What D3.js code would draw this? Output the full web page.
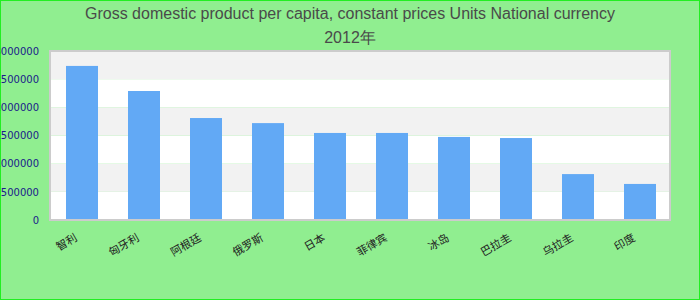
<!DOCTYPE html>
<html>
<head>
<meta charset="utf-8">
<script src="https://cdn.jsdelivr.net/npm/d3@7"></script>
<style>
  body { margin: 0; }
  svg { display: block; }
</style>
</head>
<body>
<svg width="700" height="300"></svg>
<script>
const svg = d3.select('svg');
const width = +svg.attr('width');
const height = +svg.attr('height');

// data
const titleLines = ['Gross domestic product per capita, constant prices Units National currency', '2012年'];
const categories = ['智利', '匈牙利', '阿根廷', '俄罗斯', '日本', '菲律宾', '冰岛', '巴拉圭', '乌拉圭', '印度'];
const values = [2735000, 2290000, 1810000, 1720000, 1545000, 1545000, 1475000, 1455000, 815000, 640000];
const yTicks = [0, 500000, 1000000, 1500000, 2000000, 2500000, 3000000];

const margin = { top: 51, right: 30, bottom: 80, left: 50 };
const plotW = width - margin.left - margin.right;
const plotH = height - margin.top - margin.bottom;

// background + outer border
svg.append('rect')
    .attr('x', 0.5).attr('y', 0.5)
    .attr('width', width - 1).attr('height', height - 1)
    .attr('fill', '#90ee90')
    .attr('stroke', '#22ee22')

// title
svg.append('g').selectAll('text').data(titleLines)
  .enter().append('text')
    .attr('x', width / 2)
    .attr('y', (_d, i) => 19 + i * 24)
    .attr('text-anchor', 'middle')
    .attr('font-family', 'Liberation Sans, Arial, sans-serif')
    .attr('font-size', 16)
    .attr('fill', '#4a4a4a')
    .text(d => d)

const x = d3.scaleBand()
    .domain(categories)
    .range([1, plotW + 1])
    .paddingInner(0.484)
    .paddingOuter(0.242)

const y = d3.scaleLinear()
    .domain([0, 3000000])
    .range([plotH, 0])

const g = svg.append('g').attr('transform', `translate(${margin.left},${margin.top})`)

// alternating bands
const bands = d3.range(yTicks.length - 1)
g.selectAll('rect.band').data(bands)
  .enter().append('rect')
    .attr('class', 'band')
    .attr('x', 0)
    .attr('width', plotW)
    .attr('y', i => y(yTicks[i + 1]))
    .attr('height', i => y(yTicks[i]) - y(yTicks[i + 1]))
    .attr('fill', i => (yTicks.length - 2 - i) % 2 === 0 ? '#f2f2f2' : '#ffffff')

// bars
g.selectAll('rect.bar').data(values)
  .enter().append('rect')
    .attr('class', 'bar')
    .attr('x', (_d, i) => x(categories[i]))
    .attr('width', x.bandwidth())
    .attr('y', d => y(d))
    .attr('height', d => plotH - y(d))
    .attr('fill', '#62a9f5')

// plot frame
g.append('rect')
    .attr('x', 0).attr('y', 0)
    .attr('width', plotW).attr('height', plotH)
    .attr('fill', 'none')
    .attr('stroke', '#cccccc')
    .attr('stroke-width', 2)

// y axis
const yAxis = g.append('g')
    .call(d3.axisLeft(y).tickValues(yTicks).tickFormat(d3.format('d')).tickSize(0).tickPadding(11))
yAxis.select('.domain').remove()
yAxis.selectAll('text')
    .attr('font-family', 'DejaVu Sans, Verdana, sans-serif')
    .attr('font-size', 10)
    .attr('fill', '#1a1a8a')

// x axis
const xAxis = g.append('g')
    .attr('transform', `translate(0,${plotH})`)
    .call(d3.axisBottom(x).tickSize(0).tickPadding(0))
xAxis.select('.domain').remove()
xAxis.selectAll('text')
    .attr('font-family', 'Noto Sans CJK SC, sans-serif')
    .attr('font-size', 11)
    .attr('fill', '#222')
    .attr('text-anchor', 'end')
    .attr('dy', 0)
    .attr('transform', 'translate(-4,20) rotate(-30)')
</script>
</body>
</html>
